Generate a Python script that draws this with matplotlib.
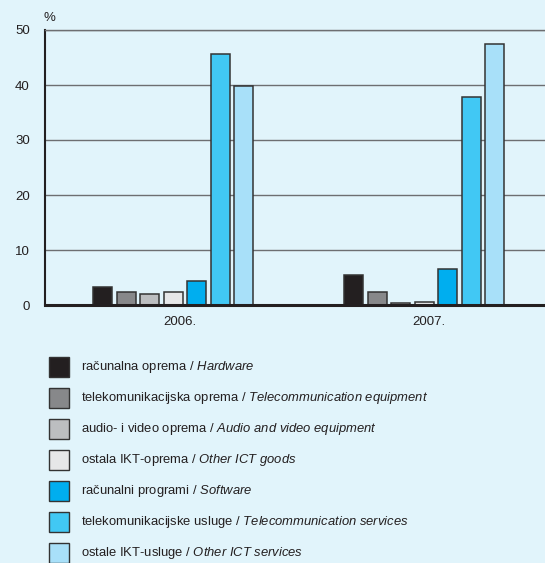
import matplotlib.pyplot as plt
from matplotlib.patches import Rectangle

plt.rcParams['font.family'] = ['Liberation Sans', 'DejaVu Sans']
plt.rcParams['mathtext.fontset'] = 'custom'
plt.rcParams['mathtext.rm'] = 'Liberation Sans'
plt.rcParams['mathtext.it'] = 'Liberation Sans:italic'

# podaci
years = ['2006.', '2007.']
labels_hr = ['računalna oprema', 'telekomunikacijska oprema', 'audio- i video oprema',
             'ostala IKT-oprema', 'računalni programi', 'telekomunikacijske usluge',
             'ostale IKT-usluge']
labels_en = ['Hardware', 'Telecommunication equipment', 'Audio and video equipment',
             'Other ICT goods', 'Software', 'Telecommunication services',
             'Other ICT services']
values_2006 = [3.3, 2.4, 2.0, 2.3, 4.4, 45.6, 39.8]
values_2007 = [5.5, 2.3, 0.3, 0.5, 6.5, 37.8, 47.4]
colors = ['#231F20', '#87888A', '#BCBEC0', '#E6E7E8', '#00AEEF', '#41C8F4', '#A8E0F9']

bg = '#E1F4FB'
fig = plt.figure(figsize=(5.45, 5.63), dpi=100, facecolor=bg)
ax = fig.add_axes([45 / 545, 1 - 305 / 563, 1 - 45 / 545, 275 / 563])
ax.set_facecolor(bg)

step = 0.0936
width = 0.0757
for i in range(len(colors)):
    vals = [values_2006[i], values_2007[i]]
    xs = [k + (i - 3) * step for k in range(len(years))]
    ax.bar(xs, vals, width=width, color=colors[i], edgecolor='#333333',
           linewidth=1.1, zorder=3)

ax.set_xlim(-0.51, 1.48)
ax.set_ylim(0, 50)
ax.set_yticks(range(0, 51, 10))
ax.set_xticks([0.028, 1.016])
ax.set_xticklabels(years)
ax.tick_params(axis='both', length=0, labelsize=9.5, colors='#231F20')
ax.tick_params(axis='y', pad=11)
ax.tick_params(axis='x', pad=8)
ax.yaxis.grid(True, color='#6d6e71', linewidth=1.0, zorder=1)
ax.spines['right'].set_visible(False)
ax.spines['top'].set_color('#6d6e71')
ax.spines['top'].set_linewidth(1.0)
ax.spines['left'].set_color('#231F20')
ax.spines['left'].set_linewidth(1.5)
ax.spines['bottom'].set_color('#231F20')
ax.spines['bottom'].set_linewidth(2.2)
ax.spines['bottom'].set_zorder(4)

fig.text(44 / 545, 1 - 18 / 563, '%', fontsize=9.5, va='center', ha='left', color='#231F20')

# legenda
for i in range(len(colors)):
    yc = 367 + i * 31
    fig.patches.append(Rectangle((49 / 545, 1 - (yc + 10) / 563), 20 / 545, 20 / 563,
                                 transform=fig.transFigure, facecolor=colors[i],
                                 edgecolor='#333333', linewidth=1.0))
    en = labels_en[i].replace(' ', r'\ ')
    fig.text(81 / 545, 1 - yc / 563, labels_hr[i] + ' / $\\mathit{' + en + '}$',
             fontsize=9.4, va='center', ha='left', color='#231F20')

fig.savefig('out.png', dpi=100, facecolor=bg)
